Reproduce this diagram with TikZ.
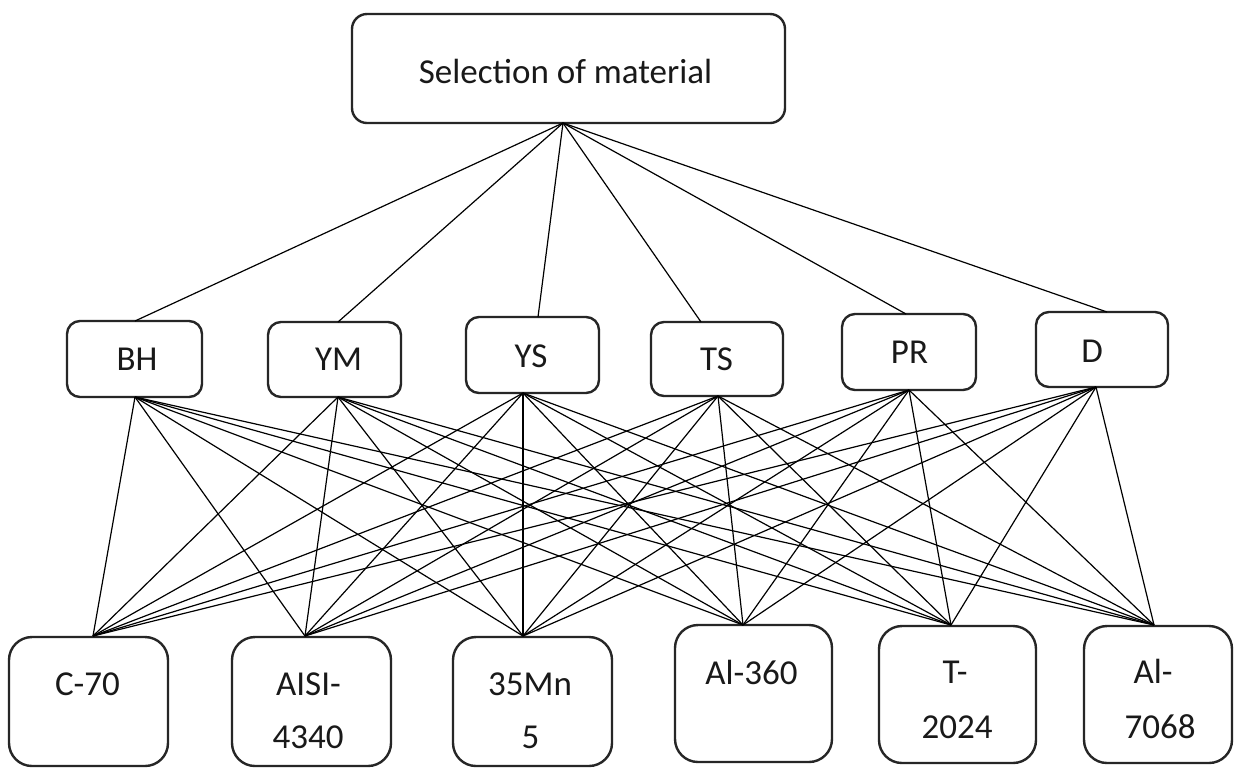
\documentclass[tikz,border=0pt]{standalone}
\usepackage{fontspec}
\setmainfont{Carlito}
\usetikzlibrary{fit}
\begin{document}
\begin{tikzpicture}[x=0.5pt,y=-0.5pt,
  boxline/.style={draw=black!85, line width=1.2pt, inner sep=0pt, fill=none},
  topbox/.style={boxline, rounded corners=7.5pt},
  midbox/.style={boxline, rounded corners=6.5pt},
  botbox/.style={boxline, rounded corners=11.5pt},
  lbl/.style={anchor=base, inner sep=0pt, text=black!90, font=\fontsize{17.5}{21}\selectfont},
  conn/.style={draw=black, line width=0.6pt}]
\useasboundingbox (0,0) rectangle (1234,767);
\fill[white] (0,0) rectangle (1234,767);

% top box
\node[topbox, fit={(352,14) (785,123)}] (top) {};
\node[lbl] (ttop) at (565.5,83) {Selection of material};

% middle boxes
\node[midbox, fit={(67,321) (202,397)}] (BH) {};
\node[lbl] (tBH) at (137,370) {BH};
\node[midbox, fit={(268,322) (401,397)}] (YM) {};
\node[lbl] (tYM) at (338.5,370) {YM};
\node[midbox, fit={(466,317) (599,393)}] (YS) {};
\node[lbl] (tYS) at (531,367) {YS};
\node[midbox, fit={(651,322) (783,396)}] (TS) {};
\node[lbl] (tTS) at (716.5,370) {TS};
\node[midbox, fit={(842,314) (976,390)}] (PR) {};
\node[lbl] (tPR) at (909.5,363) {PR};
\node[midbox, fit={(1036,312) (1168,387)}] (D) {};
\node[lbl] (tD) at (1092,362) {D};

% bottom boxes
\node[botbox, fit={(9,637) (168,766)}] (C70) {};
\node[lbl] (tC70) at (87.5,695) {C-70};
\node[botbox, fit={(232,637) (391,766)}] (AISI) {};
\node[lbl] (tAISIa) at (308.5,695) {AISI-};
\node[lbl] (tAISIb) at (308,748) {4340};
\node[botbox, fit={(453,637) (612,766)}] (Mn) {};
\node[lbl] (tMna) at (530,695) {35Mn};
\node[lbl] (tMnb) at (530.5,748) {5};
\node[botbox, fit={(675,625) (832,762)}] (Al360) {};
\node[lbl] (tAl360) at (751.5,684) {Al-360};
\node[botbox, fit={(879,626) (1036,763)}] (T2024) {};
\node[lbl] (tT2024a) at (955,683) {T-};
\node[lbl] (tT2024b) at (957,738) {2024};
\node[botbox, fit={(1084,626) (1232,763)}] (Al7068) {};
\node[lbl] (tAl7068a) at (1153,683) {Al-};
\node[lbl] (tAl7068b) at (1160,738) {7068};

% attachment points
\coordinate (top-s) at (563,123);
\coordinate (BH-n) at (135,321);
\coordinate (YM-n) at (338,322);
\coordinate (YS-n) at (538,317);
\coordinate (TS-n) at (701,322);
\coordinate (PR-n) at (906,314);
\coordinate (D-n) at (1107,312);

\coordinate (BH-s) at (135,397);
\coordinate (YM-s) at (338,397);
\coordinate (YS-s) at (523,393);
\coordinate (TS-s) at (718,396);
\coordinate (PR-s) at (909,390);
\coordinate (D-s) at (1096,387);

\coordinate (C70-n) at (93,636);
\coordinate (AISI-n) at (305,636);
\coordinate (Mn-n) at (523,636);
\coordinate (Al360-n) at (743,625);
\coordinate (T2024-n) at (951,625);
\coordinate (Al7068-n) at (1154,625);

% top to criteria
\foreach \m in {BH,YM,YS,TS,PR,D}
  \draw[conn] (top-s) -- (\m-n);

% criteria to alternatives
\foreach \m in {BH,YM,YS,TS,PR,D}
  \foreach \b in {C70,AISI,Mn,Al360,T2024,Al7068}
    \draw[conn] (\m-s) -- (\b-n);
\end{tikzpicture}
\end{document}
